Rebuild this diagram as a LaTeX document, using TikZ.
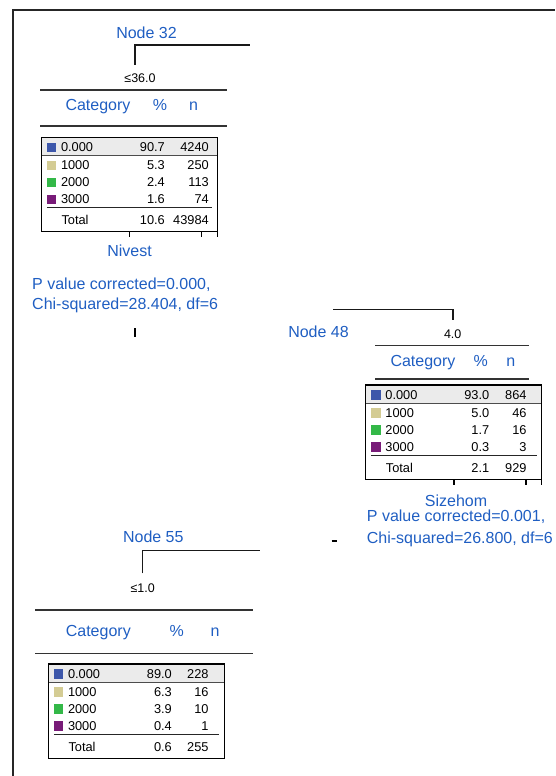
\documentclass[tikz,border=0pt]{standalone}
\usepackage{fontspec}
\setmainfont{Liberation Sans}
\definecolor{spssblue}{RGB}{31,94,194}
\definecolor{catA}{RGB}{61,87,170}
\definecolor{catB}{RGB}{212,204,148}
\definecolor{catC}{RGB}{51,184,72}
\definecolor{catD}{RGB}{120,27,120}
\definecolor{rowshade}{RGB}{235,235,235}

\tikzset{
  bluetext/.style={text=spssblue, font=\fontsize{16}{19}\selectfont,
    inner sep=0pt, text height=11.5pt, text depth=0pt},
  cell/.style={font=\fontsize{12.8}{15}\selectfont,
    inner sep=0pt, text height=9.2pt, text depth=0pt},
  condtext/.style={font=\fontsize{12.5}{15}\selectfont,
    inner sep=0pt, text height=9pt, text depth=0pt},
  headrule/.style={draw=black!80, line width=1.3pt},
  edge/.style={draw=black!90, line width=1.2pt},
  tablebox/.style={draw=black, line width=1.2pt},
  tick/.style={draw=black, line width=1.1pt},
  frame/.style={draw=black!85, line width=1.6pt},
}

% category table: #1 name, #2 top-left corner, #3 right edge of the n column,
% #4 list of percent/n pairs (four categories, then the total)
\newcommand{\cattable}[4]{%
  \begin{scope}[shift={#2}]
    \fill[rowshade] (0,0) rectangle (176,18);
    \draw[draw=black!70, line width=0.8pt] (0,18) -- (176,18);
    \draw[tablebox] (0,0) rectangle (176,94.3);
    \draw[draw=black!85, line width=1pt] (5.5,70.5) -- (171,70.5);
    \foreach \lab/\col/\yy [count=\i] in {0.000/catA/10, 1000/catB/28, 2000/catC/45, 3000/catD/62} {
      \fill[\col] (5.5,\yy-4.6) rectangle ++(9.3,9.3);
      \node[cell, anchor=west] (#1-lab\i) at (19.5,\yy) {\lab};
    }
    \node[cell, anchor=west] (#1-total) at (20,83) {Total};
    \foreach \p/\n [count=\i] in {#4} {
      \pgfmathsetmacro{\yy}{{10,28,45,62,83}[\i-1]}
      \node[cell, anchor=east] (#1-pct\i) at (123.7,\yy) {\p};
      \node[cell, anchor=east] (#1-n\i) at (#3,\yy) {\n};
    }
  \end{scope}}

\begin{document}
\begin{tikzpicture}[x=1pt, y=-1pt]
\useasboundingbox (0,0) rectangle (555,776);

% outer frame
\coordinate (frame-bl) at (13,776);
\coordinate (frame-tl) at (13,10);
\coordinate (frame-tr) at (555,10);
\draw[frame] (frame-bl) -- (frame-tl) -- (frame-tr);

% ---------------- Node 32 ----------------
\node[bluetext] (n32) at (146.5,33) {Node 32};
\coordinate (n32-drop) at (135,65);
\coordinate (n32-branch) at (250,45);
\draw[edge] (n32-drop) |- (n32-branch);
\node[condtext] (n32-cond) at (140,77.5) {≤36.0};
\coordinate (n32-h1a) at (40,90);   \coordinate (n32-h1b) at (227,90);
\coordinate (n32-h2a) at (40,126);  \coordinate (n32-h2b) at (227,126);
\draw[headrule] (n32-h1a) -- (n32-h1b);
\draw[headrule] (n32-h2a) -- (n32-h2b);
\node[bluetext] (n32-cat) at (98,105) {Category};
\node[bluetext] (n32-pct) at (160,105) {\%};
\node[bluetext] (n32-n) at (193.5,105) {n};
\cattable{t32}{(41.3,137.3)}{167.7}{90.7/4240, 5.3/250, 2.4/113, 1.6/74, 10.6/43984}
\foreach \tx in {129.3,201.7,217.3} \draw[tick] (\tx,231.7) -- (\tx,237);
\node[bluetext] (n32-var) at (129.5,251) {Nivest};
\node[bluetext, anchor=west] (n32-p) at (32,284) {P value corrected=0.000,};
\node[bluetext, anchor=west] (n32-chi) at (32,304) {Chi-squared=28.404, df=6};
\coordinate (m1a) at (135,328); \coordinate (m1b) at (135,337);
\draw[tick] (m1a) -- (m1b);

% ---------------- Node 48 ----------------
\coordinate (n48-start) at (333,309.3);
\coordinate (n48-drop) at (453,320);
\draw[edge] (n48-start) -| (n48-drop);
\node[bluetext] (n48) at (318.5,331.3) {Node 48};
\node[condtext] (n48-cond) at (452.7,333.5) {4.0};
\coordinate (n48-h1a) at (375,345.7);  \coordinate (n48-h1b) at (529,345.7);
\coordinate (n48-h2a) at (375,379);    \coordinate (n48-h2b) at (529,379);
\draw[headrule] (n48-h1a) -- (n48-h1b);
\draw[headrule] (n48-h2a) -- (n48-h2b);
\node[bluetext] (n48-cat) at (423,361) {Category};
\node[bluetext] (n48-pct) at (480.7,361) {\%};
\node[bluetext] (n48-n) at (510.7,361) {n};
\cattable{t48}{(365.7,385)}{161}{93.0/864, 5.0/46, 1.7/16, 0.3/3, 2.1/929}
\foreach \tx in {454,526,541.7} \draw[tick] (\tx,479.3) -- (\tx,485);
\node[bluetext] (n48-var) at (456,500.5) {Sizehom};
\node[bluetext, anchor=west] (n48-p) at (366.7,515.5) {P value corrected=0.001,};
\node[bluetext, anchor=west] (n48-chi) at (366.7,537.5) {Chi-squared=26.800, df=6};
\coordinate (m2a) at (331.7,541); \coordinate (m2b) at (336.7,541);
\draw[tick] (m2a) -- (m2b);

% ---------------- Node 55 ----------------
\node[bluetext] (n55) at (153.3,537) {Node 55};
\coordinate (n55-drop) at (142.7,573.3);
\coordinate (n55-branch) at (260,550.7);
\draw[edge] (n55-drop) |- (n55-branch);
\node[condtext] (n55-cond) at (142.7,587.5) {≤1.0};
\coordinate (n55-h1a) at (35,610);    \coordinate (n55-h1b) at (253.3,610);
\coordinate (n55-h2a) at (35,653.3);  \coordinate (n55-h2b) at (253.3,653.3);
\draw[headrule] (n55-h1a) -- (n55-h1b);
\draw[headrule] (n55-h2a) -- (n55-h2b);
\node[bluetext] (n55-cat) at (98.3,631) {Category};
\node[bluetext] (n55-pct) at (176.7,631) {\%};
\node[bluetext] (n55-n) at (215,631) {n};
\cattable{t55}{(48.3,664)}{160.4}{89.0/228, 6.3/16, 3.9/10, 0.4/1, 0.6/255}

\end{tikzpicture}
\end{document}
